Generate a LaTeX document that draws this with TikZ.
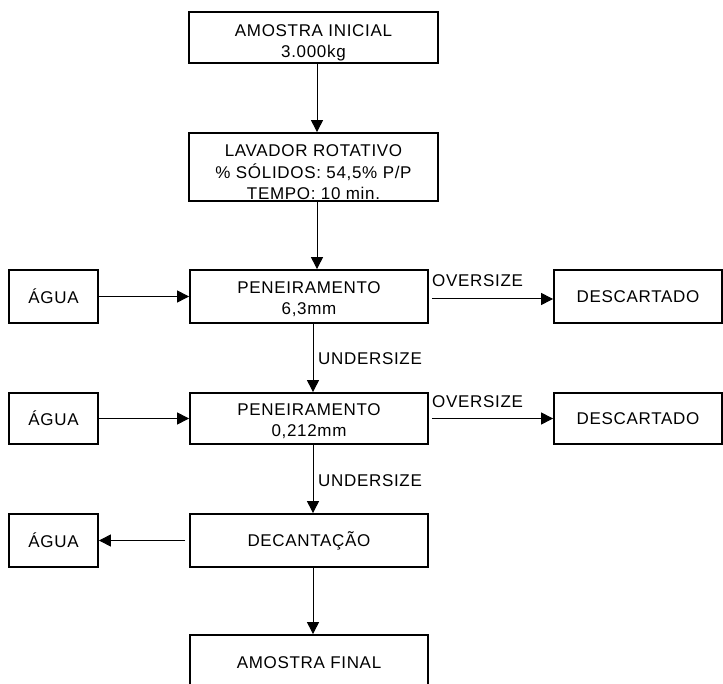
\documentclass[tikz,border=0pt]{standalone}
\usepackage{fontspec}
\setmainfont{Liberation Sans}[LetterSpace=4]
\usetikzlibrary{arrows.meta}
% taller first line, pushes a multi-line block down inside its box
\newcommand{\firststrut}[1]{\rule{0pt}{#1}}
\begin{document}
\begin{tikzpicture}[x=1pt,y=-1pt,
  box/.style={draw, line width=1.8pt, inner sep=0pt, align=center,
    font=\fontsize{17}{21}\selectfont},
  arr/.style={line width=1pt, -{Triangle[length=12pt,width=12pt]}},
  lbl/.style={inner sep=0pt, font=\fontsize{17}{21}\selectfont}]
\clip (0,0) rectangle (723,684);
\fill[white] (0,0) rectangle (723,684);

% main process column
\node[box, minimum width=249pt, minimum height=51pt] (top) at (313.5,37.5)
  {\firststrut{22pt}AMOSTRA INICIAL\\3.000kg};
\node[box, minimum width=249pt, minimum height=68pt] (lav) at (313.5,167)
  {\firststrut{23pt}LAVADOR ROTATIVO\\[0.5pt]\% SÓLIDOS: 54,5\% P/P\\[0.5pt]TEMPO: 10 min.};
\node[box, minimum width=238pt, minimum height=53pt] (pen1) at (309,296.5)
  {\firststrut{18pt}PENEIRAMENTO\\6,3mm};
\node[box, minimum width=238pt, minimum height=51pt] (pen2) at (309,418.5)
  {\firststrut{18pt}PENEIRAMENTO\\0,212mm};
\node[box, minimum width=238pt, minimum height=53pt] (dec) at (309,540.5)
  {DECANTAÇÃO};
\node[box, minimum width=238pt, minimum height=56pt] (fin) at (309,663)
  {AMOSTRA FINAL};

% water streams
\node[box, minimum width=89pt, minimum height=53pt] (ag1) at (53.5,296.5) {ÁGUA};
\node[box, minimum width=89pt, minimum height=51pt] (ag2) at (53.5,418.5) {ÁGUA};
\node[box, minimum width=89pt, minimum height=53pt] (ag3) at (53.5,540.5) {ÁGUA};

% rejected fractions
\node[box, minimum width=168pt, minimum height=53pt] (desc1) at (638,296.5) {DESCARTADO};
\node[box, minimum width=168pt, minimum height=51pt] (desc2) at (638,418.5) {DESCARTADO};

% vertical flow
\draw[arr] ([xshift=3.5pt]top.south) -- ([xshift=3.5pt]top.south |- lav.north);
\draw[arr] ([xshift=3.5pt]lav.south) -- ([xshift=3.5pt]lav.south |- pen1.north);
\draw[arr] ([xshift=4pt]pen1.south) -- ([xshift=4pt]pen2.north);
\draw[arr] ([xshift=4pt]pen2.south) -- ([xshift=4pt]dec.north);
\draw[arr] ([xshift=4pt]dec.south) -- ([xshift=4pt]fin.north);

% side streams
\draw[arr] (ag1.east) -- (pen1.west);
\draw[arr] (ag2.east) -- (pen2.west);
\draw[arr] ([xshift=-4pt]dec.west) -- (ag3.east);
\draw[arr] ([xshift=3pt,yshift=-2.5pt]pen1.east) -- ([yshift=-2.5pt]pen1.east -| desc1.west);
\draw[arr] ([xshift=3pt]pen2.east) -- (pen2.east -| desc2.west);

% stream labels
\node[lbl, anchor=base west] (ov1) at (432,287) {OVERSIZE};
\node[lbl, anchor=base west] (ov2) at (432,408) {OVERSIZE};
\node[lbl, anchor=base west] (un1) at (318,364.7) {UNDERSIZE};
\node[lbl, anchor=base west] (un2) at (318,486.3) {UNDERSIZE};
\end{tikzpicture}
\end{document}
